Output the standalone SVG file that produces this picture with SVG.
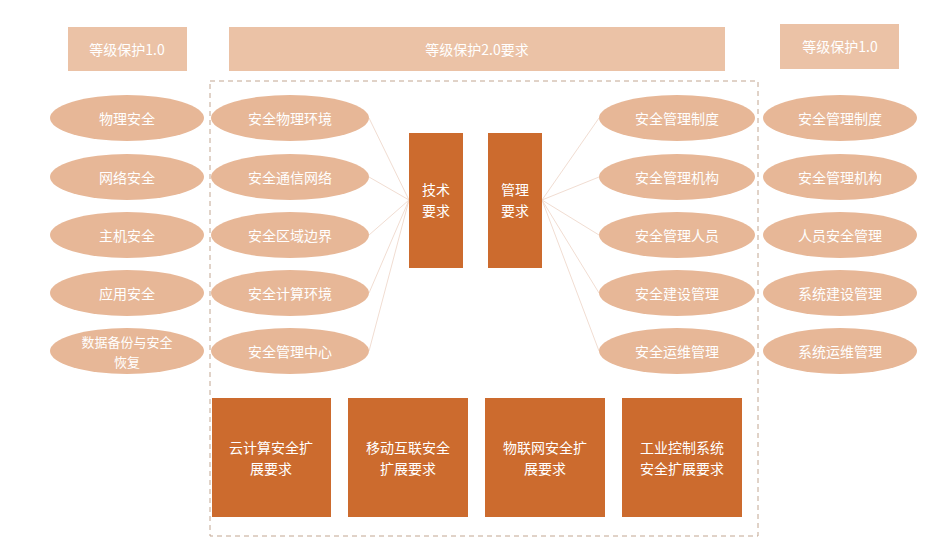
<svg xmlns="http://www.w3.org/2000/svg" width="933" height="542" viewBox="0 0 933 542">
<style>
.hdr{fill:#EBC2A6}
.ell{fill:#E7B797}
.dark{fill:#CC6B2E}
.t{font-family:"Noto Sans CJK SC","Noto Sans",sans-serif;font-size:14px;fill:#ffffff;text-anchor:middle;dominant-baseline:central}
.s{font-size:13px}
.ln{stroke:#F1DDD2;stroke-width:1;fill:none}
</style>
<rect width="933" height="542" fill="#ffffff"/>
<g id="frame"><rect x="210" y="81" width="548" height="455" fill="none" stroke="#C2A691" stroke-width="1" stroke-dasharray="5,4"/></g>
<g id="connectors">
<line class="ln" x1="369" y1="118" x2="409" y2="200"/>
<line class="ln" x1="369" y1="177" x2="409" y2="200"/>
<line class="ln" x1="369" y1="235" x2="409" y2="200"/>
<line class="ln" x1="369" y1="293" x2="409" y2="200"/>
<line class="ln" x1="369" y1="351" x2="409" y2="200"/>
<line class="ln" x1="542" y1="200" x2="599" y2="118"/>
<line class="ln" x1="542" y1="200" x2="599" y2="177"/>
<line class="ln" x1="542" y1="200" x2="599" y2="235"/>
<line class="ln" x1="542" y1="200" x2="599" y2="293"/>
<line class="ln" x1="542" y1="200" x2="599" y2="351"/>
</g>
<g id="hdr-left"><rect class="hdr" x="68" y="27" width="119" height="44"/><text class="t" x="127" y="49">等级保护1.0</text></g>
<g id="hdr-mid"><rect class="hdr" x="229" y="27" width="496" height="44"/><text class="t" x="477" y="49">等级保护2.0要求</text></g>
<g id="hdr-right"><rect class="hdr" x="780" y="24" width="119" height="45"/><text class="t" x="840" y="46">等级保护1.0</text></g>
<g id="c1r1"><ellipse class="ell" cx="127" cy="118" rx="77" ry="23"/><text class="t" x="127" y="118">物理安全</text></g>
<g id="c1r2"><ellipse class="ell" cx="127" cy="177" rx="77" ry="23"/><text class="t" x="127" y="177">网络安全</text></g>
<g id="c1r3"><ellipse class="ell" cx="127" cy="235" rx="77" ry="23"/><text class="t" x="127" y="235">主机安全</text></g>
<g id="c1r4"><ellipse class="ell" cx="127" cy="293" rx="77" ry="23"/><text class="t" x="127" y="293">应用安全</text></g>
<g id="c1r5"><ellipse class="ell" cx="127" cy="351" rx="77" ry="23"/><text class="t s" x="127" y="341">数据备份与安全</text><text class="t s" x="127" y="361">恢复</text></g>
<g id="c2r1"><ellipse class="ell" cx="290" cy="118" rx="79" ry="23"/><text class="t" x="290" y="118">安全物理环境</text></g>
<g id="c2r2"><ellipse class="ell" cx="290" cy="177" rx="79" ry="23"/><text class="t" x="290" y="177">安全通信网络</text></g>
<g id="c2r3"><ellipse class="ell" cx="290" cy="235" rx="79" ry="23"/><text class="t" x="290" y="235">安全区域边界</text></g>
<g id="c2r4"><ellipse class="ell" cx="290" cy="293" rx="79" ry="23"/><text class="t" x="290" y="293">安全计算环境</text></g>
<g id="c2r5"><ellipse class="ell" cx="290" cy="351" rx="79" ry="23"/><text class="t" x="290" y="351">安全管理中心</text></g>
<g id="c3r1"><ellipse class="ell" cx="677" cy="118" rx="78" ry="23"/><text class="t" x="677" y="118">安全管理制度</text></g>
<g id="c3r2"><ellipse class="ell" cx="677" cy="177" rx="78" ry="23"/><text class="t" x="677" y="177">安全管理机构</text></g>
<g id="c3r3"><ellipse class="ell" cx="677" cy="235" rx="78" ry="23"/><text class="t" x="677" y="235">安全管理人员</text></g>
<g id="c3r4"><ellipse class="ell" cx="677" cy="293" rx="78" ry="23"/><text class="t" x="677" y="293">安全建设管理</text></g>
<g id="c3r5"><ellipse class="ell" cx="677" cy="351" rx="78" ry="23"/><text class="t" x="677" y="351">安全运维管理</text></g>
<g id="c4r1"><ellipse class="ell" cx="840" cy="118" rx="77" ry="23"/><text class="t" x="840" y="118">安全管理制度</text></g>
<g id="c4r2"><ellipse class="ell" cx="840" cy="177" rx="77" ry="23"/><text class="t" x="840" y="177">安全管理机构</text></g>
<g id="c4r3"><ellipse class="ell" cx="840" cy="235" rx="77" ry="23"/><text class="t" x="840" y="235">人员安全管理</text></g>
<g id="c4r4"><ellipse class="ell" cx="840" cy="293" rx="77" ry="23"/><text class="t" x="840" y="293">系统建设管理</text></g>
<g id="c4r5"><ellipse class="ell" cx="840" cy="351" rx="77" ry="23"/><text class="t" x="840" y="351">系统运维管理</text></g>
<g id="tech"><rect class="dark" x="409" y="133" width="54" height="135"/><text class="t" x="436" y="189">技术</text><text class="t" x="436" y="210">要求</text></g>
<g id="mgmt"><rect class="dark" x="488" y="133" width="54" height="135"/><text class="t" x="515" y="189">管理</text><text class="t" x="515" y="210">要求</text></g>
<g id="ext1"><rect class="dark" x="212" y="398" width="119" height="119"/><text class="t" x="271" y="447">云计算安全扩</text><text class="t" x="271" y="468">展要求</text></g>
<g id="ext2"><rect class="dark" x="348" y="398" width="120" height="119"/><text class="t" x="408" y="447">移动互联安全</text><text class="t" x="408" y="468">扩展要求</text></g>
<g id="ext3"><rect class="dark" x="485" y="398" width="120" height="119"/><text class="t" x="545" y="447">物联网安全扩</text><text class="t" x="545" y="468">展要求</text></g>
<g id="ext4"><rect class="dark" x="622" y="398" width="120" height="119"/><text class="t" x="682" y="447">工业控制系统</text><text class="t" x="682" y="468">安全扩展要求</text></g>
</svg>
